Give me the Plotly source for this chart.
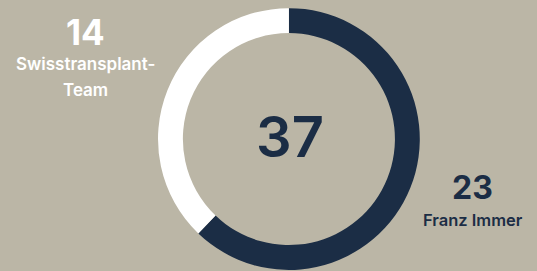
import plotly.graph_objects as go

labels = ["Franz Immer", "Swisstransplant-<br>Team"]
values = [23, 14]
colors = ["#1b2d45", "#ffffff"]
total = sum(values)

BG = "#bbb6a6"
FONT = "Inter"

fig = go.Figure()
fig.add_trace(go.Pie(
    labels=labels, values=values, hole=0.81, sort=False,
    direction="clockwise", rotation=0,
    marker=dict(colors=colors, line=dict(width=0)),
    textinfo="none", hoverinfo="skip", showlegend=False,
    domain=dict(x=[0.294, 0.782], y=[0.004, 0.970]),
))

def ann(x, y, text, size, color, weight=700):
    fig.add_annotation(x=x / 537, y=1 - y / 271, xref="paper", yref="paper",
                       xanchor="center", yanchor="middle", align="center",
                       text=text, showarrow=False,
                       font=dict(family=FONT, size=size, color=color, weight=weight))

ann(290, 137, str(total), 56, colors[0], 600)
ann(472, 187, str(values[0]), 32, colors[0])
ann(473, 220, labels[0], 16.5, colors[0], 600)
ann(85, 32, str(values[1]), 35, colors[1])
for i, line in enumerate(labels[1].split("<br>")):
    ann(85, 64 + 26 * i, line, 17, colors[1], 600)

fig.update_layout(width=537, height=271, margin=dict(l=0, r=0, t=0, b=0),
                  paper_bgcolor=BG, plot_bgcolor=BG)
fig.write_html("out.html", config={"displayModeBar": False},
               post_script="document.body.style.margin='0';")
